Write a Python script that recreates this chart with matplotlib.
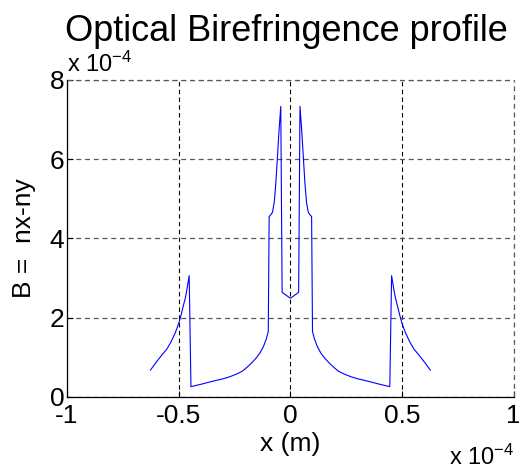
import numpy as np
import matplotlib.pyplot as plt

plt.rcParams['font.family'] = ['Liberation Sans', 'DejaVu Sans']
plt.rcParams['mathtext.fontset'] = 'custom'
plt.rcParams['mathtext.rm'] = 'Liberation Sans'
plt.rcParams['mathtext.it'] = 'Liberation Sans'

# position across the fibre (units of 1e-4 m) and birefringence (units of 1e-4)
x_pos = [
    -0.626, -0.600, -0.575, -0.554, -0.535, -0.515, -0.500, -0.490, -0.480,
    -0.470, -0.462, -0.453, -0.445, -0.400, -0.345, -0.300, -0.271, -0.240,
    -0.215, -0.196, -0.175, -0.155, -0.136, -0.120, -0.108, -0.099, -0.095,
    -0.087, -0.080, -0.072, -0.065, -0.058, -0.051, -0.043, -0.037, -0.020,
    0.000,
    0.020, 0.037, 0.043, 0.051, 0.058, 0.065, 0.072, 0.080, 0.087, 0.095,
    0.099, 0.108, 0.120, 0.136, 0.155, 0.175, 0.196, 0.215, 0.240, 0.271,
    0.300, 0.345, 0.400, 0.445, 0.453, 0.462, 0.470, 0.480, 0.490, 0.500,
    0.515, 0.535, 0.554, 0.575, 0.600, 0.626,
]
biref = [
    0.68, 0.88, 1.06, 1.20, 1.38, 1.62, 1.85, 2.05, 2.28,
    2.50, 2.75, 3.06, 0.26, 0.32, 0.40, 0.46, 0.51, 0.58,
    0.65, 0.74, 0.85, 0.97, 1.11, 1.28, 1.46, 1.65, 4.55,
    4.60, 4.66, 4.92, 5.40, 6.05, 6.70, 7.33, 2.64, 2.57,
    2.49,
    2.57, 2.64, 7.33, 6.70, 6.05, 5.40, 4.92, 4.66, 4.60, 4.55,
    1.65, 1.46, 1.28, 1.11, 0.97, 0.85, 0.74, 0.65, 0.58, 0.51,
    0.46, 0.40, 0.32, 0.26, 3.06, 2.75, 2.50, 2.28, 2.05, 1.85,
    1.62, 1.38, 1.20, 1.06, 0.88, 0.68,
]
x_ticks = [-1, -0.5, 0, 0.5, 1]
x_labels = ['-1', '-0.5', '0', '0.5', '1']
y_ticks = [0, 2, 4, 6, 8]

fig = plt.figure(figsize=(5.19, 4.67), dpi=100)
ax = fig.add_axes([0.129, 0.150, 0.861, 0.679])

ax.plot(x_pos, biref, color='#0000ff', lw=0.8)

ax.set_xlim(-1, 1)
ax.set_ylim(0, 8)
ax.set_xticks(x_ticks)
ax.set_xticklabels(x_labels)
ax.set_yticks(y_ticks)
ax.tick_params(direction='in', length=4, width=0.8, labelsize=19, pad=2,
               top=False, right=False)
ax.tick_params(axis='x', pad=5)

for side in ['top', 'right']:
    ax.spines[side].set_visible(False)
for side in ['left', 'bottom']:
    ax.spines[side].set_linewidth(0.9)

ax.xaxis.grid(True, color='black', lw=0.8, dashes=(4, 3))
ax.yaxis.grid(True, color='0.35', lw=0.9, dashes=(4, 3))
# grid lines at the far edges, where the box would be
ax.axhline(8, color='0.35', lw=0.9, dashes=(4, 3), clip_on=False)
ax.axvline(1, color='0.35', lw=0.9, dashes=(4, 3), clip_on=False)

ax.set_title('Optical Birefringence profile', fontsize=26, pad=28, x=0.49)
ax.set_xlabel('x (m)', fontsize=19, labelpad=3)
ax.set_ylabel('B =  nx-ny', fontsize=19, labelpad=10)

ax.text(0.0, 1.01, r'x 10$^{-4}$', transform=ax.transAxes, fontsize=17,
        ha='left', va='bottom')
ax.text(1.0, -0.15, r'x 10$^{-4}$', transform=ax.transAxes, fontsize=17,
        ha='right', va='top')

fig.savefig('out.png', dpi=100)
